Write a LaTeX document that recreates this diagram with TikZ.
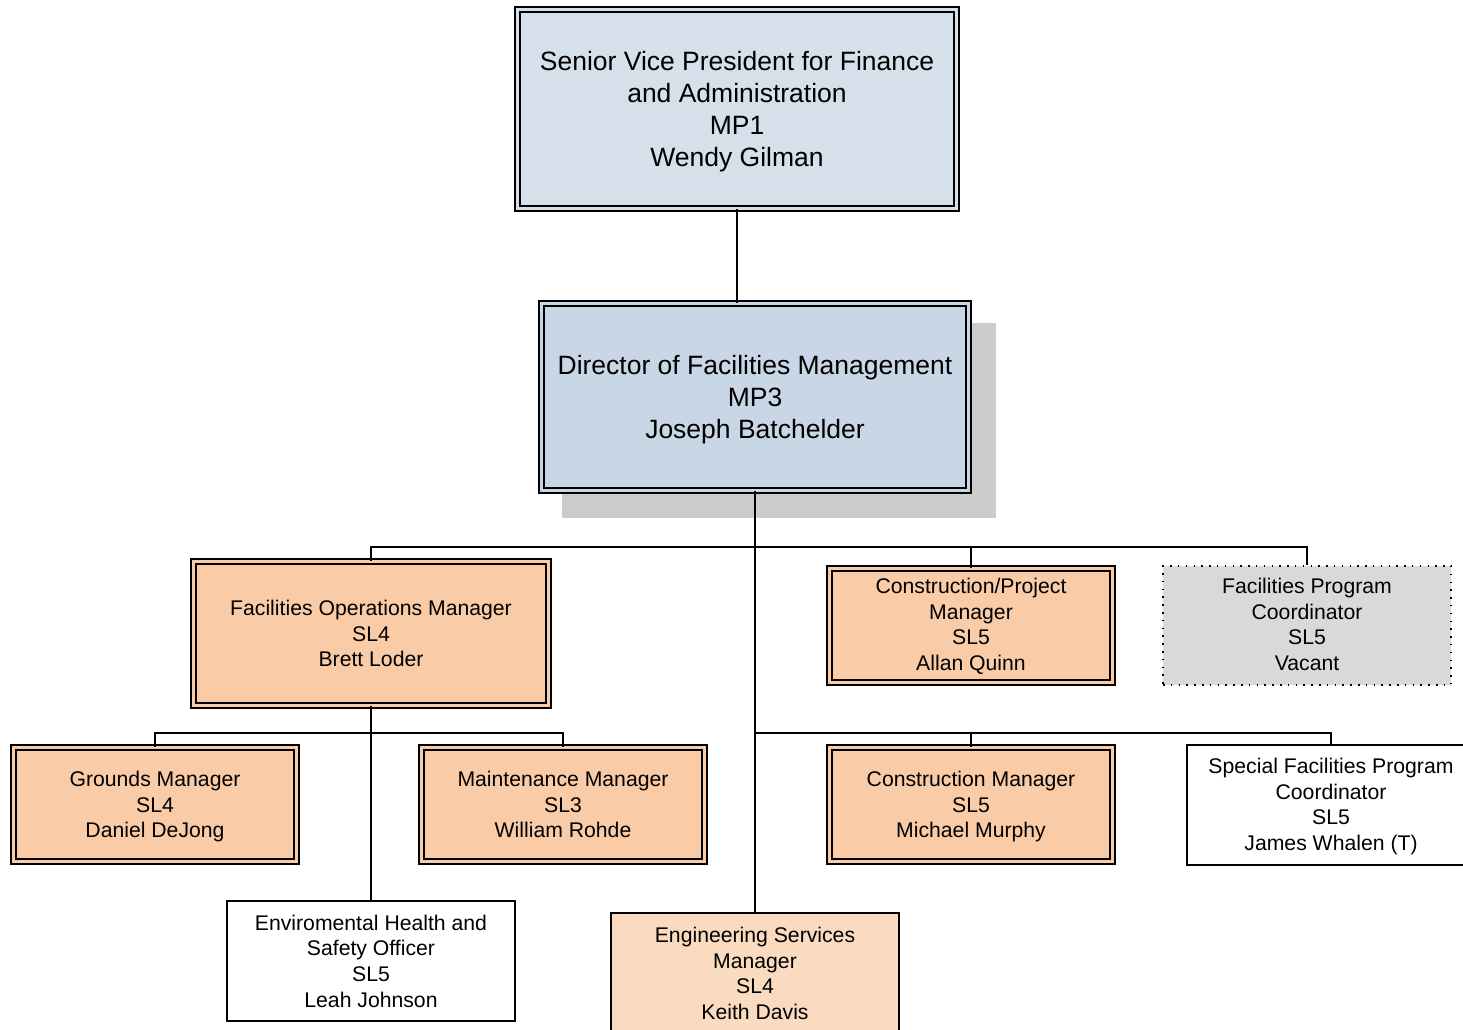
\documentclass[tikz,border=0pt]{standalone}
\usepackage{fontspec}
\setmainfont{Liberation Sans}
\definecolor{topblue}{HTML}{D6E0EB}
\definecolor{dirblue}{HTML}{C9D6E6}
\definecolor{orangefill}{HTML}{F9CBA7}
\definecolor{lightorange}{HTML}{FADBC0}
\definecolor{vacantgray}{HTML}{D9D9D9}
\definecolor{shadowgray}{HTML}{CCCCCC}
\newcommand\boxlines[2]{\raisebox{#1}[\height][\depth]{\begin{tabular}{@{}c@{}}#2\end{tabular}}}
\newcommand\biglines[1]{\boxlines{-3pt}{#1}}
\newcommand\smalllines[1]{\boxlines{-2.5pt}{#1}}
\tikzset{
  bigtext/.style={font=\fontsize{26.5}{32}\selectfont},
  smalltext/.style={font=\fontsize{21.2}{25.6}\selectfont},
  dblbox/.style={draw, line width=1.6pt, double=#1, double distance=3pt, fill=#1,
    inner sep=0pt},
  plainbox/.style={draw, line width=1.5pt, fill=#1, inner sep=0pt,
    minimum width=288pt, minimum height=120pt, smalltext},
  vacantbox/.style={draw, line width=1.5pt, dash pattern=on 1.5pt off 6.3pt, fill=vacantgray,
    inner sep=0pt, minimum width=288pt, minimum height=119pt, smalltext},
  link/.style={line width=1.5pt},
}
\begin{document}
\begin{tikzpicture}[x=1pt,y=-1pt]
\useasboundingbox (0,0) rectangle (1463,1029);
\clip (0,0) rectangle (1463,1029);
\fill[white] (0,0) rectangle (1463,1029);
% shadow of director box
\fill[shadowgray] (562,323) rectangle (996,518);

\node[dblbox=topblue, minimum width=439pt, minimum height=199pt, bigtext] (svp) at (737,109)
  {\biglines{Senior Vice President for Finance\\and Administration\\MP1\\Wendy Gilman}};
\node[dblbox=dirblue, minimum width=427pt, minimum height=187pt, bigtext] (dir) at (755,397)
  {\biglines{Director of Facilities Management\\MP3\\Joseph Batchelder}};

\node[dblbox=orangefill, minimum width=355pt, minimum height=144pt, smalltext] (fo) at (371,633.5)
  {\smalllines{Facilities Operations Manager\\SL4\\Brett Loder}};
\node[dblbox=orangefill, minimum width=283pt, minimum height=114pt, smalltext] (cp) at (971,625.5)
  {\boxlines{-1.5pt}{Construction/Project\\Manager\\SL5\\Allan Quinn}};
\node[vacantbox] (fp) at (1307,625.5)
  {\boxlines{-1.5pt}{Facilities Program\\Coordinator\\SL5\\Vacant}};

\node[dblbox=orangefill, minimum width=283pt, minimum height=114pt, smalltext] (gm) at (155,804.5)
  {\smalllines{Grounds Manager\\SL4\\Daniel DeJong}};
\node[dblbox=orangefill, minimum width=283pt, minimum height=114pt, smalltext] (mm) at (563,804.5)
  {\smalllines{Maintenance Manager\\SL3\\William Rohde}};
\node[dblbox=orangefill, minimum width=283pt, minimum height=114pt, smalltext] (cm) at (971,804.5)
  {\smalllines{Construction Manager\\SL5\\Michael Murphy}};
\node[plainbox=white] (sp) at (1331,805)
  {\boxlines{-2pt}{Special Facilities Program\\Coordinator\\SL5\\James Whalen (T)}};

\node[plainbox=white] (env) at (371,961)
  {\smalllines{Enviromental Health and\\Safety Officer\\SL5\\Leah Johnson}};
\node[plainbox=lightorange] (eng) at (755,973)
  {\boxlines{-3pt}{Engineering Services\\Manager\\SL4\\Keith Davis}};

% connectors
\coordinate (busA) at (755,547);
\coordinate (busB) at (755,733);
\coordinate (busC) at (371,733);
\draw[link] (svp.south) -- (svp.south |- dir.north);
\draw[link] (dir.south) -- (eng.north);
\draw[link] (fo.north) -- (fo.north |- busA) -- (fp.north |- busA) -- (fp.north);
\draw[link] (cp.north) -- (cp.north |- busA);
\draw[link] (busB) -- (sp.north |- busB) -- (sp.north);
\draw[link] (cm.north) -- (cm.north |- busB);
\draw[link] (fo.south) -- (env.north);
\draw[link] (gm.north) -- (gm.north |- busC) -- (mm.north |- busC) -- (mm.north);
\end{tikzpicture}
\end{document}
